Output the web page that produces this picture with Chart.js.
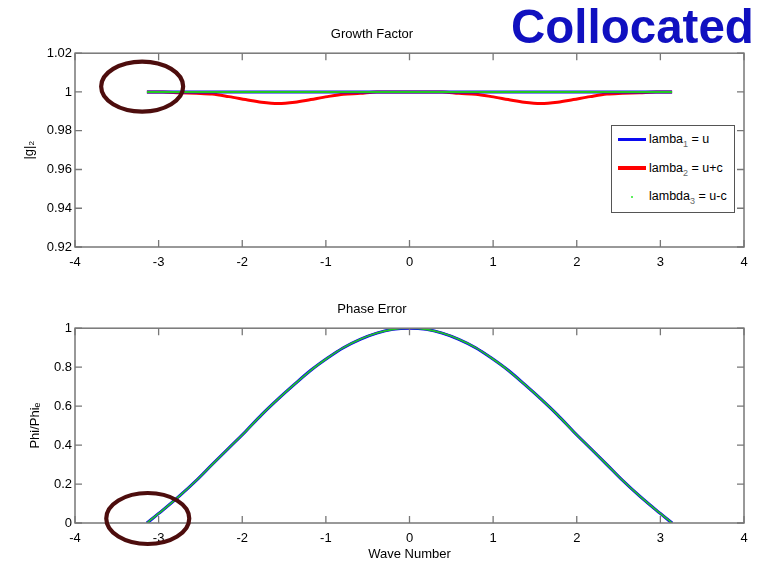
<!DOCTYPE html>
<html><head><meta charset="utf-8">
<script src="https://cdn.jsdelivr.net/npm/chart.js@4.4.1/dist/chart.umd.min.js"></script>
<style>
html,body{margin:0;padding:0;background:#fff;}
#wrap{position:relative;width:770px;height:564px;overflow:hidden;font-family:"Liberation Sans",Arial,sans-serif;}
canvas{position:absolute;left:0;}
#c1{top:0;} #c2{top:282px;}
#coll{position:absolute;left:511px;top:3px;font-size:47.5px;line-height:47px;font-weight:bold;color:#1010c0;white-space:nowrap;}
#legend{position:absolute;left:611px;top:125px;width:122px;height:86px;border:1px solid #555;background:#fff;font-size:12.5px;}
.item{position:absolute;left:37px;height:14px;line-height:14px;white-space:nowrap;color:#000;}
.item sub{font-size:9px;color:#666;vertical-align:-4px;line-height:0;}
.sw{position:absolute;}
</style></head>
<body>
<div id="wrap">
  <canvas id="c1" width="770" height="282"></canvas>
  <canvas id="c2" width="770" height="282"></canvas>
  <div id="coll">Collocated</div>
  <div id="legend">
    <div class="sw" style="left:6px;top:12px;width:28px;height:3px;background:#0a0af0;"></div>
    <div class="item" style="top:6px;">lamba<sub>1</sub> = u</div>
    <div class="sw" style="left:6px;top:40px;width:28px;height:4px;background:#ff0000;"></div>
    <div class="item" style="top:35px;">lamba<sub>2</sub> = u+c</div>
    <div class="sw" style="left:19px;top:70px;width:2px;height:2px;background:#5fef5f;"></div>
    <div class="item" style="top:63px;">lambda<sub>3</sub> = u-c</div>
  </div>
</div>
<script>
// ---- data ----
const waveNumber = [-3.14,-2.95,-2.75,-2.55,-2.36,-2.16,-1.96,-1.77,-1.57,-1.37,-1.18,-0.98,-0.79,-0.59,-0.39,-0.2,0,
                    0.2,0.39,0.59,0.79,0.98,1.18,1.37,1.57,1.77,1.96,2.16,2.36,2.55,2.75,2.95,3.14];
const growthLambda1 = [1,1,1,1,1,1,1,1,1,1,1,1,1,1,1,1,1,1,1,1,1,1,1,1,1,1,1,1,1,1,1,1,1];
const growthLambda2 = [1,1,0.9996,0.9993,0.9989,0.9976,0.9961,0.9947,0.994,0.9947,0.9961,0.9976,0.9988,0.9993,1,1,1,
                       1,1,0.9993,0.9988,0.9976,0.9961,0.9947,0.994,0.9947,0.9961,0.9976,0.9989,0.9993,0.9996,1,1];
const growthLambda3 = [1,1,1,1,1,1,1,1,1,1,1,1,1,1,1,1,1,1,1,1,1,1,1,1,1,1,1,1,1,1,1,1,1];
const phaseLambda1 = [0,0.066,0.139,0.218,0.30,0.385,0.47,0.555,0.637,0.714,0.784,0.847,0.90,0.943,0.975,0.994,1,
                      0.994,0.975,0.943,0.90,0.847,0.784,0.714,0.637,0.555,0.47,0.385,0.30,0.218,0.139,0.066,0];
const phaseLambda2 = [0,0.066,0.139,0.218,0.30,0.385,0.47,0.555,0.637,0.714,0.784,0.847,0.90,0.943,0.975,0.994,1,
                      0.994,0.975,0.943,0.90,0.847,0.784,0.714,0.637,0.555,0.47,0.385,0.30,0.218,0.139,0.066,0];
const phaseLambda3 = [0,0.066,0.139,0.218,0.30,0.385,0.47,0.555,0.637,0.714,0.784,0.847,0.90,0.943,0.975,0.994,1,
                      0.994,0.975,0.943,0.90,0.847,0.784,0.714,0.637,0.555,0.47,0.385,0.30,0.218,0.139,0.066,0];
const xTicks = [-4,-3,-2,-1,0,1,2,3,4];
const growthTicks = [0.92,0.94,0.96,0.98,1,1.02];
const phaseTicks = [0,0.2,0.4,0.6,0.8,1];
const seriesNames = ['lamba1 = u','lamba2 = u+c','lambda3 = u-c'];

const FONT = '"Liberation Sans", Arial, sans-serif';
const pts = arr => arr.map((v,i)=>({x: waveNumber[i], y: v}));

const framePlugin = {
  id: 'frame',
  afterDraw(chart, args, o) {
    const {ctx, chartArea: a, scales: {x, y}} = chart;
    ctx.save();
    ctx.strokeStyle = '#777'; ctx.lineWidth = 1.5;
    ctx.strokeRect(a.left, a.top, a.right - a.left, a.bottom - a.top);
    ctx.lineWidth = 1.3; ctx.beginPath();
    x.ticks.forEach(t => { const p = x.getPixelForValue(t.value);
      ctx.moveTo(p, a.bottom); ctx.lineTo(p, a.bottom - 7); ctx.moveTo(p, a.top); ctx.lineTo(p, a.top + 7); });
    y.ticks.forEach(t => { const p = y.getPixelForValue(t.value);
      ctx.moveTo(a.left, p); ctx.lineTo(a.left + 7, p); ctx.moveTo(a.right, p); ctx.lineTo(a.right - 7, p); });
    ctx.stroke();
    if (o && o.ex !== undefined) {
      ctx.strokeStyle = '#4d0d0d'; ctx.lineWidth = 4.2;
      ctx.beginPath();
      ctx.ellipse(x.getPixelForValue(o.ex), y.getPixelForValue(o.ey), o.rx, o.ry, 0, 0, Math.PI * 2);
      ctx.stroke();
    }
    ctx.restore();
  }
};

function makeChart(id, cfg) {
  const ds = [
    {label: seriesNames[0], data: pts(cfg.d1), borderColor: '#0a0af0', borderWidth: cfg.w1, order: 2},
    {label: seriesNames[1], data: pts(cfg.d2), borderColor: '#ff0000', borderWidth: cfg.w2, order: 3},
    {label: seriesNames[2], data: pts(cfg.d3), borderColor: '#22c822', borderWidth: cfg.w3, order: 1}
  ].map(d => Object.assign(d, {pointRadius: 0, fill: false, cubicInterpolationMode: 'monotone'}));
  return new Chart(document.getElementById(id), {
    type: 'line',
    data: {datasets: ds},
    plugins: [framePlugin],
    options: {
      responsive: false, animation: false, devicePixelRatio: 1,
      layout: {padding: {left: 0, right: 26, top: 0, bottom: 0}},
      plugins: {
        legend: {display: false}, tooltip: {enabled: false},
        title: {display: true, text: cfg.title, color: '#000', font: {family: FONT, size: 13, weight: 'normal', lineHeight: 1.2},
                padding: {top: cfg.tpTop, bottom: cfg.tpBot}},
        frame: cfg.ellipse
      },
      scales: {
        x: {type: 'linear', min: -4, max: 4,
            afterBuildTicks: s => { s.ticks = xTicks.map(v => ({value: v})); },
            afterFit: s => { s.height = cfg.xh; },
            grid: {display: false, drawTicks: false}, border: {display: false},
            ticks: {color: '#000', font: {family: FONT, size: 13}, padding: 7.5, maxRotation: 0,
                    callback: v => String(v)},
            title: {display: !!cfg.xTitle, text: cfg.xTitle || '', color: '#000', font: {family: FONT, size: 13}, padding: {top: 0, bottom: 1.8}}},
        y: {type: 'linear', min: cfg.ymin, max: cfg.ymax,
            afterBuildTicks: s => { s.ticks = cfg.yTicks.map(v => ({value: v})); },
            afterFit: s => { s.width = 75; },
            grid: {display: false, drawTicks: false}, border: {display: false},
            ticks: {color: '#000', font: {family: FONT, size: 13}, padding: 3,
                    callback: v => String(parseFloat(Number(v).toFixed(2)))},
            title: {display: true, text: cfg.yTitle, color: '#000', font: {family: FONT, size: 13}, padding: {top: cfg.ytp, bottom: 0}}}
      }
    }
  });
}

makeChart('c1', {
  title: 'Growth Factor', tpTop: 26.8, tpBot: 10.8, xh: 35,
  d1: growthLambda1, d2: growthLambda2, d3: growthLambda3, w1: 3, w2: 3, w3: 2,
  ymin: 0.92, ymax: 1.02, yTicks: growthTicks, yTitle: '|g|\u2082', ytp: 22,
  ellipse: {ex: -3.197, ey: 1.0028, rx: 41, ry: 25}
});
makeChart('c2', {
  title: 'Phase Error', tpTop: 19.8, tpBot: 10.8, xh: 41, xTitle: 'Wave Number',
  d1: phaseLambda1, d2: phaseLambda2, d3: phaseLambda3, w1: 3, w2: 2, w3: 1.6,
  ymin: 0, ymax: 1, yTicks: phaseTicks, yTitle: 'Phi/Phi\u2091', ytp: 28,
  ellipse: {ex: -3.13, ey: 0.023, rx: 41.5, ry: 25.5}
});
</script>
</body></html>
